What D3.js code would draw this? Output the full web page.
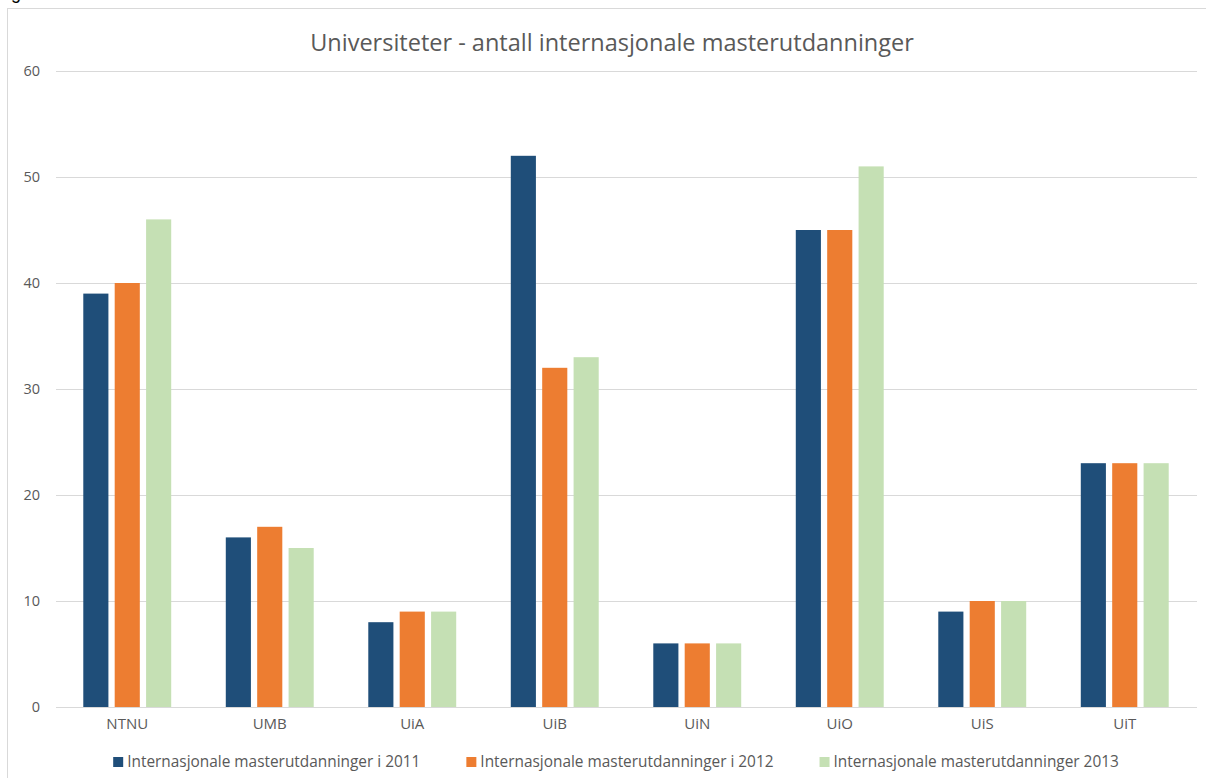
<!DOCTYPE html>
<html>
<head>
<meta charset="utf-8">
<script src="https://cdn.jsdelivr.net/npm/d3@7"></script>
<style>
	body { margin: 0; background: #fff; }
	text { font-family: "Open Sans", sans-serif; fill: #595959; }
</style>
</head>
<body>
<svg id="chart" width="1206" height="778"></svg>
<script>
var universities = ["NTNU", "UMB", "UiA", "UiB", "UiN", "UiO", "UiS", "UiT"];
var seriesNames = [
	"Internasjonale masterutdanninger i 2011",
	"Internasjonale masterutdanninger i 2012",
	"Internasjonale masterutdanninger 2013"
];
var values2011 = [39, 16, 8, 52, 6, 45, 9, 23];
var values2012 = [40, 17, 9, 32, 6, 45, 10, 23];
var values2013 = [46, 15, 9, 33, 6, 51, 10, 23];
var yTicks = [0, 10, 20, 30, 40, 50, 60];
var colors = ["#1f4e79", "#ed7d31", "#c5e0b4"];
var title = "Universiteter - antall internasjonale masterutdanninger";

var seriesValues = [values2011, values2012, values2013];

var svg = d3.select("#chart");

// frame of the pasted chart, cut off on the right and bottom
svg.append("rect")
	.attr("x", 7.5).attr("y", 8.5)
	.attr("width", 1220).attr("height", 800)
	.attr("fill", "none")
	.attr("stroke", "#d9d9d9");

// remains of a caption above the frame
svg.append("text")
	.attr("x", 21).attr("y", -1)
	.attr("text-anchor", "end")
	.style("font-family", "Liberation Sans, sans-serif")
	.style("font-size", "18px")
	.style("fill", "#000")
	.text("Fig");

var x0 = d3.scaleBand()
	.domain(universities)
	.range([56, 1196])
	.paddingInner(0.383)
	.paddingOuter(0.1915);

var x1 = d3.scaleBand()
	.domain(d3.range(seriesNames.length))
	.range([0, x0.bandwidth()])
	.paddingInner(0.2);

var y = d3.scaleLinear()
	.domain([0, 60])
	.range([707, 71]);

// gridlines
svg.append("g").selectAll("line")
	.data(yTicks)
	.join("line")
		.attr("x1", 56).attr("x2", 1197)
		.attr("y1", function(d) { return Math.round(y(d)) + 0.5; })
		.attr("y2", function(d) { return Math.round(y(d)) + 0.5; })
		.attr("stroke", "#d9d9d9");

// y axis labels
var yAxis = svg.append("g")
	.attr("transform", "translate(40,0)")
	.call(d3.axisLeft(y).tickValues(yTicks).tickSize(0).tickPadding(0));
yAxis.select(".domain").remove();
yAxis.selectAll("text").style("font-size", "14.5px").attr("fill", "#595959");

// x axis labels
var xAxis = svg.append("g")
	.attr("transform", "translate(0,716)")
	.call(d3.axisBottom(x0).tickSize(0).tickPadding(2));
xAxis.select(".domain").remove();
xAxis.selectAll("text").style("font-size", "15px").attr("fill", "#595959");

// bars
var groups = svg.append("g").selectAll("g")
	.data(universities)
	.join("g")
		.attr("transform", function(d) { return "translate(" + x0(d) + ",0)"; });

groups.selectAll("rect")
	.data(function(d, i) {
		return seriesValues.map(function(vals, s) { return { s: s, v: vals[i] }; });
	})
	.join("rect")
		.attr("x", function(d) { return x1(d.s); })
		.attr("width", x1.bandwidth())
		.attr("y", function(d) { return y(d.v); })
		.attr("height", function(d) { return y(0) - y(d.v); })
		.attr("fill", function(d) { return colors[d.s]; });

// title
svg.append("text")
	.attr("x", 612).attr("y", 51)
	.attr("text-anchor", "middle")
	.style("font-size", "23.5px")
	.text(title);

// legend, laid out from measured text widths and centred
var legend = svg.append("g").attr("transform", "translate(0,762)");
var items = legend.selectAll("g")
	.data(seriesNames)
	.join("g");
items.append("rect")
	.attr("width", 10).attr("height", 10)
	.attr("y", -5)
	.attr("fill", function(d, i) { return colors[i]; });
items.append("text")
	.attr("x", 14)
	.attr("dy", "0.35em")
	.style("font-size", "15.4px")
	.text(function(d) { return d; });

var widths = [];
items.each(function() { widths.push(14 + d3.select(this).select("text").node().getComputedTextLength()); });
var itemGap = 46;
var total = d3.sum(widths) + itemGap * (widths.length - 1);
var pos = 616 - total / 2;
items.attr("transform", function(d, i) {
	var t = "translate(" + pos + ",0)";
	pos += widths[i] + itemGap;
	return t;
});
</script>
</body>
</html>
